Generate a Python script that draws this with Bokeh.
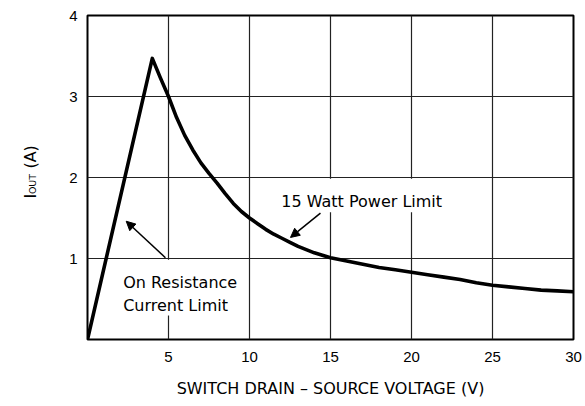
import math
from bokeh.plotting import figure
from bokeh.layouts import row
from bokeh.models import Label, Arrow, NormalHead, FixedTicker, Range1d
from bokeh.embed import file_html
from bokeh.resources import INLINE

# Data
voltage = [0, 4, 4.5, 5, 5.5, 6, 6.5, 7, 7.5, 8, 8.5, 9, 9.5, 10, 10.5, 11, 11.5, 12, 12.5,
           13, 13.5, 14, 14.5, 15, 16, 17, 18, 19, 20, 21, 22, 23, 24, 25, 26, 27, 28, 29, 30]
current = [0, 3.47, 3.23, 3.0, 2.74, 2.52, 2.34, 2.18, 2.05, 1.93, 1.8, 1.68, 1.58, 1.5, 1.43,
           1.36, 1.3, 1.25, 1.2, 1.15, 1.11, 1.07, 1.04, 1.01, 0.97, 0.93, 0.89, 0.86, 0.83,
           0.8, 0.77, 0.74, 0.7, 0.67, 0.65, 0.63, 0.61, 0.6, 0.59]
x_ticks = [5, 10, 15, 20, 25, 30]
y_ticks = [1, 2, 3, 4]
x_title = "SWITCH DRAIN \u2013 SOURCE VOLTAGE (V)"
y_title = ["I", "OUT", "(A)"]
note_power = "15 Watt Power Limit"
note_res = ["On Resistance", "Current Limit"]

FONT = "DejaVu Sans"
TICKFONT = "Liberation Sans"
H = 406
LW = 50  # width of the strip that holds the y-axis title
BORDERS = dict(min_border_top=15, min_border_bottom=67)

# ---- narrow strip for the rotated y-axis title (I with subscript OUT) ----
# it shares the vertical scale of the main chart, so its labels sit at I-values
lf = figure(width=LW, height=H, output_backend="svg", toolbar_location=None, title=None,
            x_range=Range1d(0, LW), y_range=Range1d(0, 4),
            x_axis_type=None, y_axis_type=None,
            min_border_left=0, min_border_right=0, **BORDERS)
lf.frame_height = 324
lf.outline_line_color = None
lf.xgrid.visible = False
lf.ygrid.visible = False
lf.background_fill_color = "white"
lf.border_fill_color = "white"
# (x of baseline in strip pixels, start of text along the axis, font size)
for txt, bx, sy, fs in [(y_title[0], 30, 1.74, "16px"), (y_title[1], 32, 1.795, "9.5px"),
                        (y_title[2], 30, 2.11, "16px")]:
    lf.add_layout(Label(x=bx, y=sy, text=txt, angle=math.pi / 2,
                        text_font=FONT, text_font_size=fs,
                        text_baseline="alphabetic", text_align="left", text_color="black"))

# ---- main chart ----
p = figure(width=585 - LW, height=H, output_backend="svg", toolbar_location=None,
           x_range=Range1d(0, 30), y_range=Range1d(0, 4),
           min_border_left=87 - LW, min_border_right=12, **BORDERS)
p.frame_width = 486
p.frame_height = 324
p.background_fill_color = "white"
p.border_fill_color = "white"
p.outline_line_color = "black"
p.outline_line_width = 2
p.outline_line_alpha = 1

for ax in (p.xaxis, p.yaxis):
    ax.axis_line_color = None
    ax.major_tick_line_color = None
    ax.minor_tick_line_color = None
    ax.major_tick_out = 0
    ax.major_tick_in = 0
    ax.major_label_text_font = TICKFONT
    ax.major_label_text_font_size = "15px"
    ax.major_label_text_color = "black"

p.xaxis.ticker = FixedTicker(ticks=x_ticks)
p.yaxis.ticker = FixedTicker(ticks=y_ticks)
p.xaxis.major_label_standoff = 12
p.yaxis.major_label_standoff = 10
p.xaxis.axis_label = x_title
p.xaxis.axis_label_text_font = FONT
p.xaxis.axis_label_text_font_size = "16px"
p.xaxis.axis_label_text_font_style = "normal"
p.xaxis.axis_label_text_color = "black"
p.xaxis.axis_label_standoff = 14

p.xgrid.grid_line_color = "#222222"
p.ygrid.grid_line_color = "#222222"
p.xgrid.grid_line_width = 1.2
p.ygrid.grid_line_width = 1.2
p.xgrid.grid_line_alpha = 1
p.ygrid.grid_line_alpha = 1

# white label backgrounds that mask the grid
p.quad(left=[1.7, 11.0], right=[9.7, 23.1], bottom=[0.296, 1.57], top=[0.985, 1.985],
       fill_color="white", line_color=None)

p.line(voltage, current, line_color="black", line_width=3.6, line_join="round")

# annotations
for txt, xx, yy in [(note_power, 11.96, 1.707), (note_res[0], 2.2, 0.707), (note_res[1], 2.2, 0.42)]:
    p.add_layout(Label(x=xx, y=yy, text=txt, text_font=FONT, text_font_size="16px",
                       text_baseline="alphabetic", text_align="left", text_color="black"))

p.add_layout(Arrow(end=NormalHead(size=9, fill_color="black", line_color="black"),
                   x_start=4.81, y_start=1.01, x_end=2.39, y_end=1.46,
                   line_color="black", line_width=1.5))
p.add_layout(Arrow(end=NormalHead(size=9, fill_color="black", line_color="black"),
                   x_start=14.38, y_start=1.56, x_end=12.53, y_end=1.26,
                   line_color="black", line_width=1.5))

layout = row(lf, p, spacing=0)
open("out.html", "w").write(file_html(layout, INLINE))
